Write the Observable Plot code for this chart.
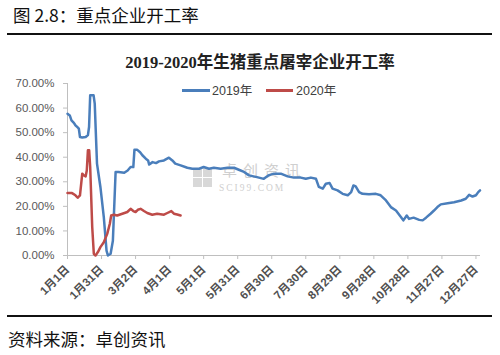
<!DOCTYPE html>
<html>
<head>
<meta charset="utf-8">
<script src="https://cdn.jsdelivr.net/npm/d3@7"></script>
<script src="https://cdn.jsdelivr.net/npm/@observablehq/plot@0.6"></script>
<style>
  html, body { margin: 0; padding: 0; background: #fff; }
  #wrap { position: relative; width: 500px; height: 355px; overflow: hidden; font-family: "Noto Sans CJK SC", "Liberation Sans", sans-serif; }
  .abs { position: absolute; white-space: nowrap; }
  #h1 { left: 13px; top: 3px; font-size: 17.5px; line-height: 24px; color: #111; }
  .rule { position: absolute; left: 7px; width: 485px; height: 2px; background: #111; }
  #ctitle { left: 0; width: 520px; text-align: center; top: 52px; font-size: 16.5px; line-height: 22px; font-weight: bold; color: #222; font-family: "Liberation Serif", "Noto Sans CJK SC", serif; }
  .leg { top: 83px; font-size: 12.5px; line-height: 16px; color: #404040; font-family: "Liberation Sans", "Noto Sans CJK SC", sans-serif; }
  .legline { position: absolute; height: 2.5px; top: 89px; }
  #cap { left: 8px; top: 327px; font-size: 17.5px; line-height: 24px; color: #111; }
  #chart { position: absolute; left: 0; top: 75px; }
  .wm { color: #cfcfcf; }
</style>
</head>
<body>
<div id="wrap">
  <div id="h1" class="abs">图 2.8：重点企业开工率</div>
  <div class="rule" style="top:33px"></div>
  <div id="ctitle" class="abs">2019-2020年生猪重点屠宰企业开工率</div>
  <div class="legline" style="left:182px;width:28px;background:#4a7ebb"></div>
  <div id="leg1" class="abs leg" style="left:212px">2019年</div>
  <div class="legline" style="left:266px;width:27px;background:#be4b48"></div>
  <div id="leg2" class="abs leg" style="left:296px">2020年</div>
  <div class="abs" style="left:193px;top:168px;width:9px;height:9px;background:#d8d8d8"></div>
  <div class="abs" style="left:203px;top:168px;width:9px;height:9px;background:#d8d8d8"></div>
  <div class="abs" style="left:193px;top:178px;width:9px;height:9px;background:#d8d8d8"></div>
  <div class="abs" style="left:203px;top:178px;width:9px;height:9px;background:#d8d8d8"></div>
  <div class="abs wm" style="left:222px;top:162px;font-size:15px;line-height:15px;letter-spacing:6px;">卓创资讯</div>
  <div class="abs wm" style="left:219px;top:184px;font-size:9.5px;line-height:9.5px;letter-spacing:2px;font-family:'Liberation Serif',serif;">SCI99.COM</div>
  <div id="chart"></div>
  <div class="rule" style="top:315px"></div>
  <div id="cap" class="abs">资料来源：卓创资讯</div>
</div>
<script>
// x positions are day-of-year indices (0 = 1月1日)
const tickDays = [0, 30, 60, 90, 120, 150, 180, 210, 240, 270, 300, 330, 360];
const tickLabels = ["1月1日", "1月31日", "3月2日", "4月1日", "5月1日", "5月31日", "6月30日", "7月30日", "8月29日", "9月28日", "10月28日", "11月27日", "12月27日"];
const yTicks = [0, 10, 20, 30, 40, 50, 60, 70];
const seriesNames = ["2019年", "2020年"];

const days2019 = [0, 2, 3.5, 5.6, 7, 8.5, 10, 11, 13, 16, 18, 19, 20, 23, 24, 26, 29, 32, 34.4, 35.6, 38, 40, 42.4, 45, 50, 53, 55.6, 58, 59, 61.5, 64, 66, 69, 71, 72, 75, 78, 80.6, 85, 89.4, 92.4, 95, 99.7, 105.6, 110, 116, 120, 124.7, 129, 135, 141, 146.8, 151, 155.6, 160, 162, 167, 173, 177, 182, 188, 194, 199.5, 205.6, 210, 214.5, 219, 221.5, 225, 227.7, 231, 233.6, 238, 242.5, 247, 250, 252, 254, 257, 260, 265.7, 271.8, 276, 280.7, 285, 289.5, 294, 296, 299, 301, 305, 310, 313, 316, 320, 323, 326, 329, 335, 340.7, 347, 351, 354, 357, 360, 362, 363.6];
const values2019 = [57.7, 57, 55, 54, 53, 52.3, 51.6, 48.2, 48, 48.2, 49, 52.3, 65.2, 65.2, 61.8, 37.4, 27.9, 15.6, 2, 0, 0.7, 6, 34, 34, 33.7, 34.6, 36, 36, 43, 43, 42, 40.8, 39.4, 38.7, 37, 38, 37.6, 38.3, 38.7, 39.8, 38.7, 37.4, 36.7, 35.7, 35.3, 35.3, 36, 35.3, 35.7, 35.3, 35.7, 35.7, 34.9, 34, 32.6, 32.4, 31.9, 31.2, 32.6, 33.3, 33.3, 32.2, 31.7, 31.7, 31.2, 31.7, 31.2, 27.9, 27.2, 29.2, 29.5, 27.2, 26.5, 25.1, 24.5, 25.8, 28.5, 28.1, 25.8, 25.1, 24.9, 25.1, 24.5, 22.4, 19.7, 18.3, 15.6, 14.3, 16.3, 14.9, 15.4, 14.5, 14.3, 15.4, 17, 18.3, 19.7, 20.8, 21.3, 21.7, 22.4, 23.1, 24.7, 24, 24.5, 25.8, 26.5];

const days2020 = [0, 4, 7, 9, 11, 13, 14.4, 16, 17, 18, 19.1, 20, 21.8, 23.2, 24.7, 26.8, 29, 32, 35, 37.3, 38.5, 40.9, 43.8, 48.3, 52.7, 55.6, 58, 60, 62, 64.4, 67.4, 70.3, 74.7, 79, 85, 88, 91.5, 93.8, 96.7, 99.7];
const values2020 = [25.4, 25.4, 24.5, 23.5, 24.5, 33.3, 32.6, 32.2, 34.6, 42.8, 42.8, 36, 11.5, 0.7, 0, 1.4, 3.4, 5.4, 8.8, 12.9, 16.3, 16.6, 16.3, 17, 17.7, 19, 18.1, 17.7, 18.6, 19, 18.1, 17.3, 16.6, 17, 16.6, 17.3, 18.1, 17, 16.7, 16.3];

const data = [
  ...days2019.map((d, i) => ({day: d, value: values2019[i], series: seriesNames[0]})),
  ...days2020.map((d, i) => ({day: d, value: values2020[i], series: seriesNames[1]}))
];

const chart = Plot.plot({
  width: 500,
  height: 235,
  marginLeft: 67,
  marginRight: 20,
  marginTop: 8,
  marginBottom: 55,
  style: {fontFamily: "'Liberation Sans', 'Noto Sans CJK SC', sans-serif", background: "transparent", overflow: "visible"},
  x: {domain: [0, 364]},
  y: {domain: [0, 70]},
  color: {domain: seriesNames, range: ["#4a7ebb", "#be4b48"]},
  marks: [
    Plot.ruleX([0], {stroke: "#bfbfbf", strokeWidth: 1}),
    Plot.ruleY([0], {stroke: "#bfbfbf", strokeWidth: 1}),
    Plot.axisY({ticks: yTicks, tickFormat: d => d.toFixed(2) + "%", tickSize: 4, tickPadding: 9, stroke: "#bfbfbf", fill: "#595959", fontSize: 11.5, label: null}),
    Plot.axisX({ticks: tickDays, tickFormat: d => tickLabels[tickDays.indexOf(d)], tickRotate: -45, tickSize: 4, tickPadding: 8, stroke: "#bfbfbf", fill: "#505050", fontSize: 11.5, fontWeight: "bold", label: null}),
    Plot.line(data, {x: "day", y: "value", z: "series", stroke: "series", strokeWidth: 2.5, curve: "linear"})
  ]
});
document.getElementById("chart").appendChild(chart);
</script>
</body>
</html>
